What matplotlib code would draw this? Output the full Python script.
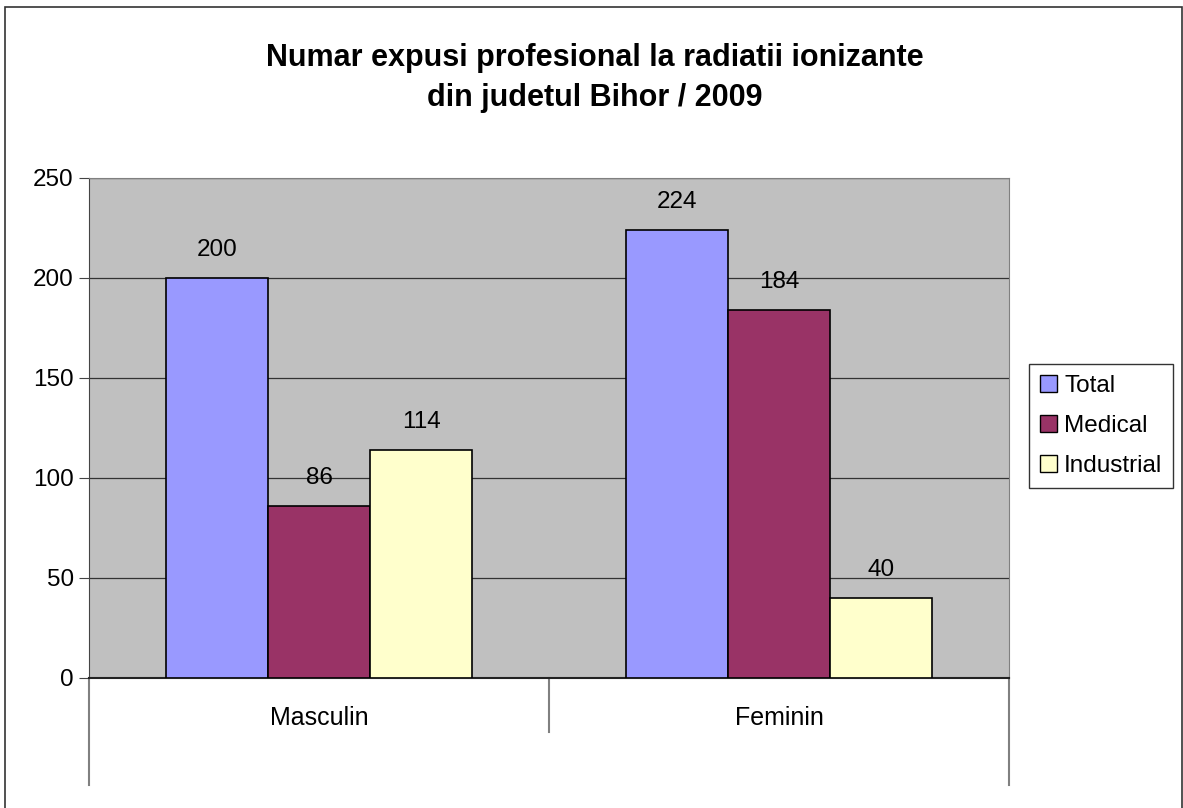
import matplotlib.pyplot as plt
import numpy as np
from matplotlib.patches import Rectangle

plt.rcParams['font.family'] = ['Liberation Sans', 'DejaVu Sans']

categories = ['Masculin', 'Feminin']
series = ['Total', 'Medical', 'Industrial']
total = [200, 224]
medical = [86, 184]
industrial = [114, 40]
colors = ['#9999FF', '#993366', '#FFFFCC']

fig = plt.figure(figsize=(11.83, 8.08), dpi=100)
fig.patches.append(Rectangle((5 / 1183, -0.01), 1177 / 1183, 1 - 7 / 808 + 0.01,
                             transform=fig.transFigure, fill=False,
                             edgecolor='#333333', linewidth=1.2))

ax = fig.add_axes([89 / 1183, 130 / 808, 920 / 1183, 500 / 808])
ax.set_facecolor('#C0C0C0')

x = np.arange(len(categories))
w = 102 / 460
for i, (vals, c, name) in enumerate(zip([total, medical, industrial], colors, series)):
    pos = x + (i - 1) * w
    bars = ax.bar(pos, vals, w, color=c, edgecolor='black', linewidth=1.2,
                  label=name, zorder=3)
    for b, v in zip(bars, vals):
        ax.text(b.get_x() + b.get_width() / 2, v + 8.5, str(v), ha='center',
                va='bottom', fontsize=17.5, zorder=4)

ax.set_xlim(-0.5, 1.5)
ax.set_ylim(0, 250)
ax.set_yticks(range(0, 251, 50))
ax.tick_params(axis='y', labelsize=17.5, length=7, color='#444444', pad=4)
ax.set_xticks([])
ax.yaxis.grid(True, color='#333333', linewidth=0.9, zorder=0)
for s in ['top', 'right']:
    ax.spines[s].set_color('#808080')
ax.spines['left'].set_color('#444444')
ax.spines['bottom'].set_color('#222222')
ax.spines['bottom'].set_linewidth(1.5)

# category separators below the axis
for xs, ybot in [(-0.5, -107 / 500), (0.5, -54 / 500), (1.5, -107 / 500)]:
    ax.plot([xs, xs], [0, ybot], transform=ax.get_xaxis_transform(),
            color='#808080', linewidth=1.5, clip_on=False)
for xi, cat in zip(x, categories):
    ax.text(xi, -40 / 500, cat, transform=ax.get_xaxis_transform(),
            ha='center', va='center', fontsize=18)

fig.text(595 / 1183, 1 - 78 / 808,
         'Numar expusi profesional la radiatii ionizante\ndin judetul Bihor / 2009',
         ha='center', va='center', fontsize=22, fontweight='bold', linespacing=1.45)

leg = ax.legend(loc='center left', bbox_to_anchor=((1029 - 89) / 920, 0.504),
                fontsize=17.5, frameon=True, fancybox=False, edgecolor='black',
                handlelength=0.7, handleheight=0.7, handletextpad=0.3,
                labelspacing=0.75, borderpad=0.45, borderaxespad=0)
leg.get_frame().set_linewidth(1.0)
for h in leg.legend_handles:
    h.set_linewidth(1.0)

plt.savefig('out.png', dpi=100)
